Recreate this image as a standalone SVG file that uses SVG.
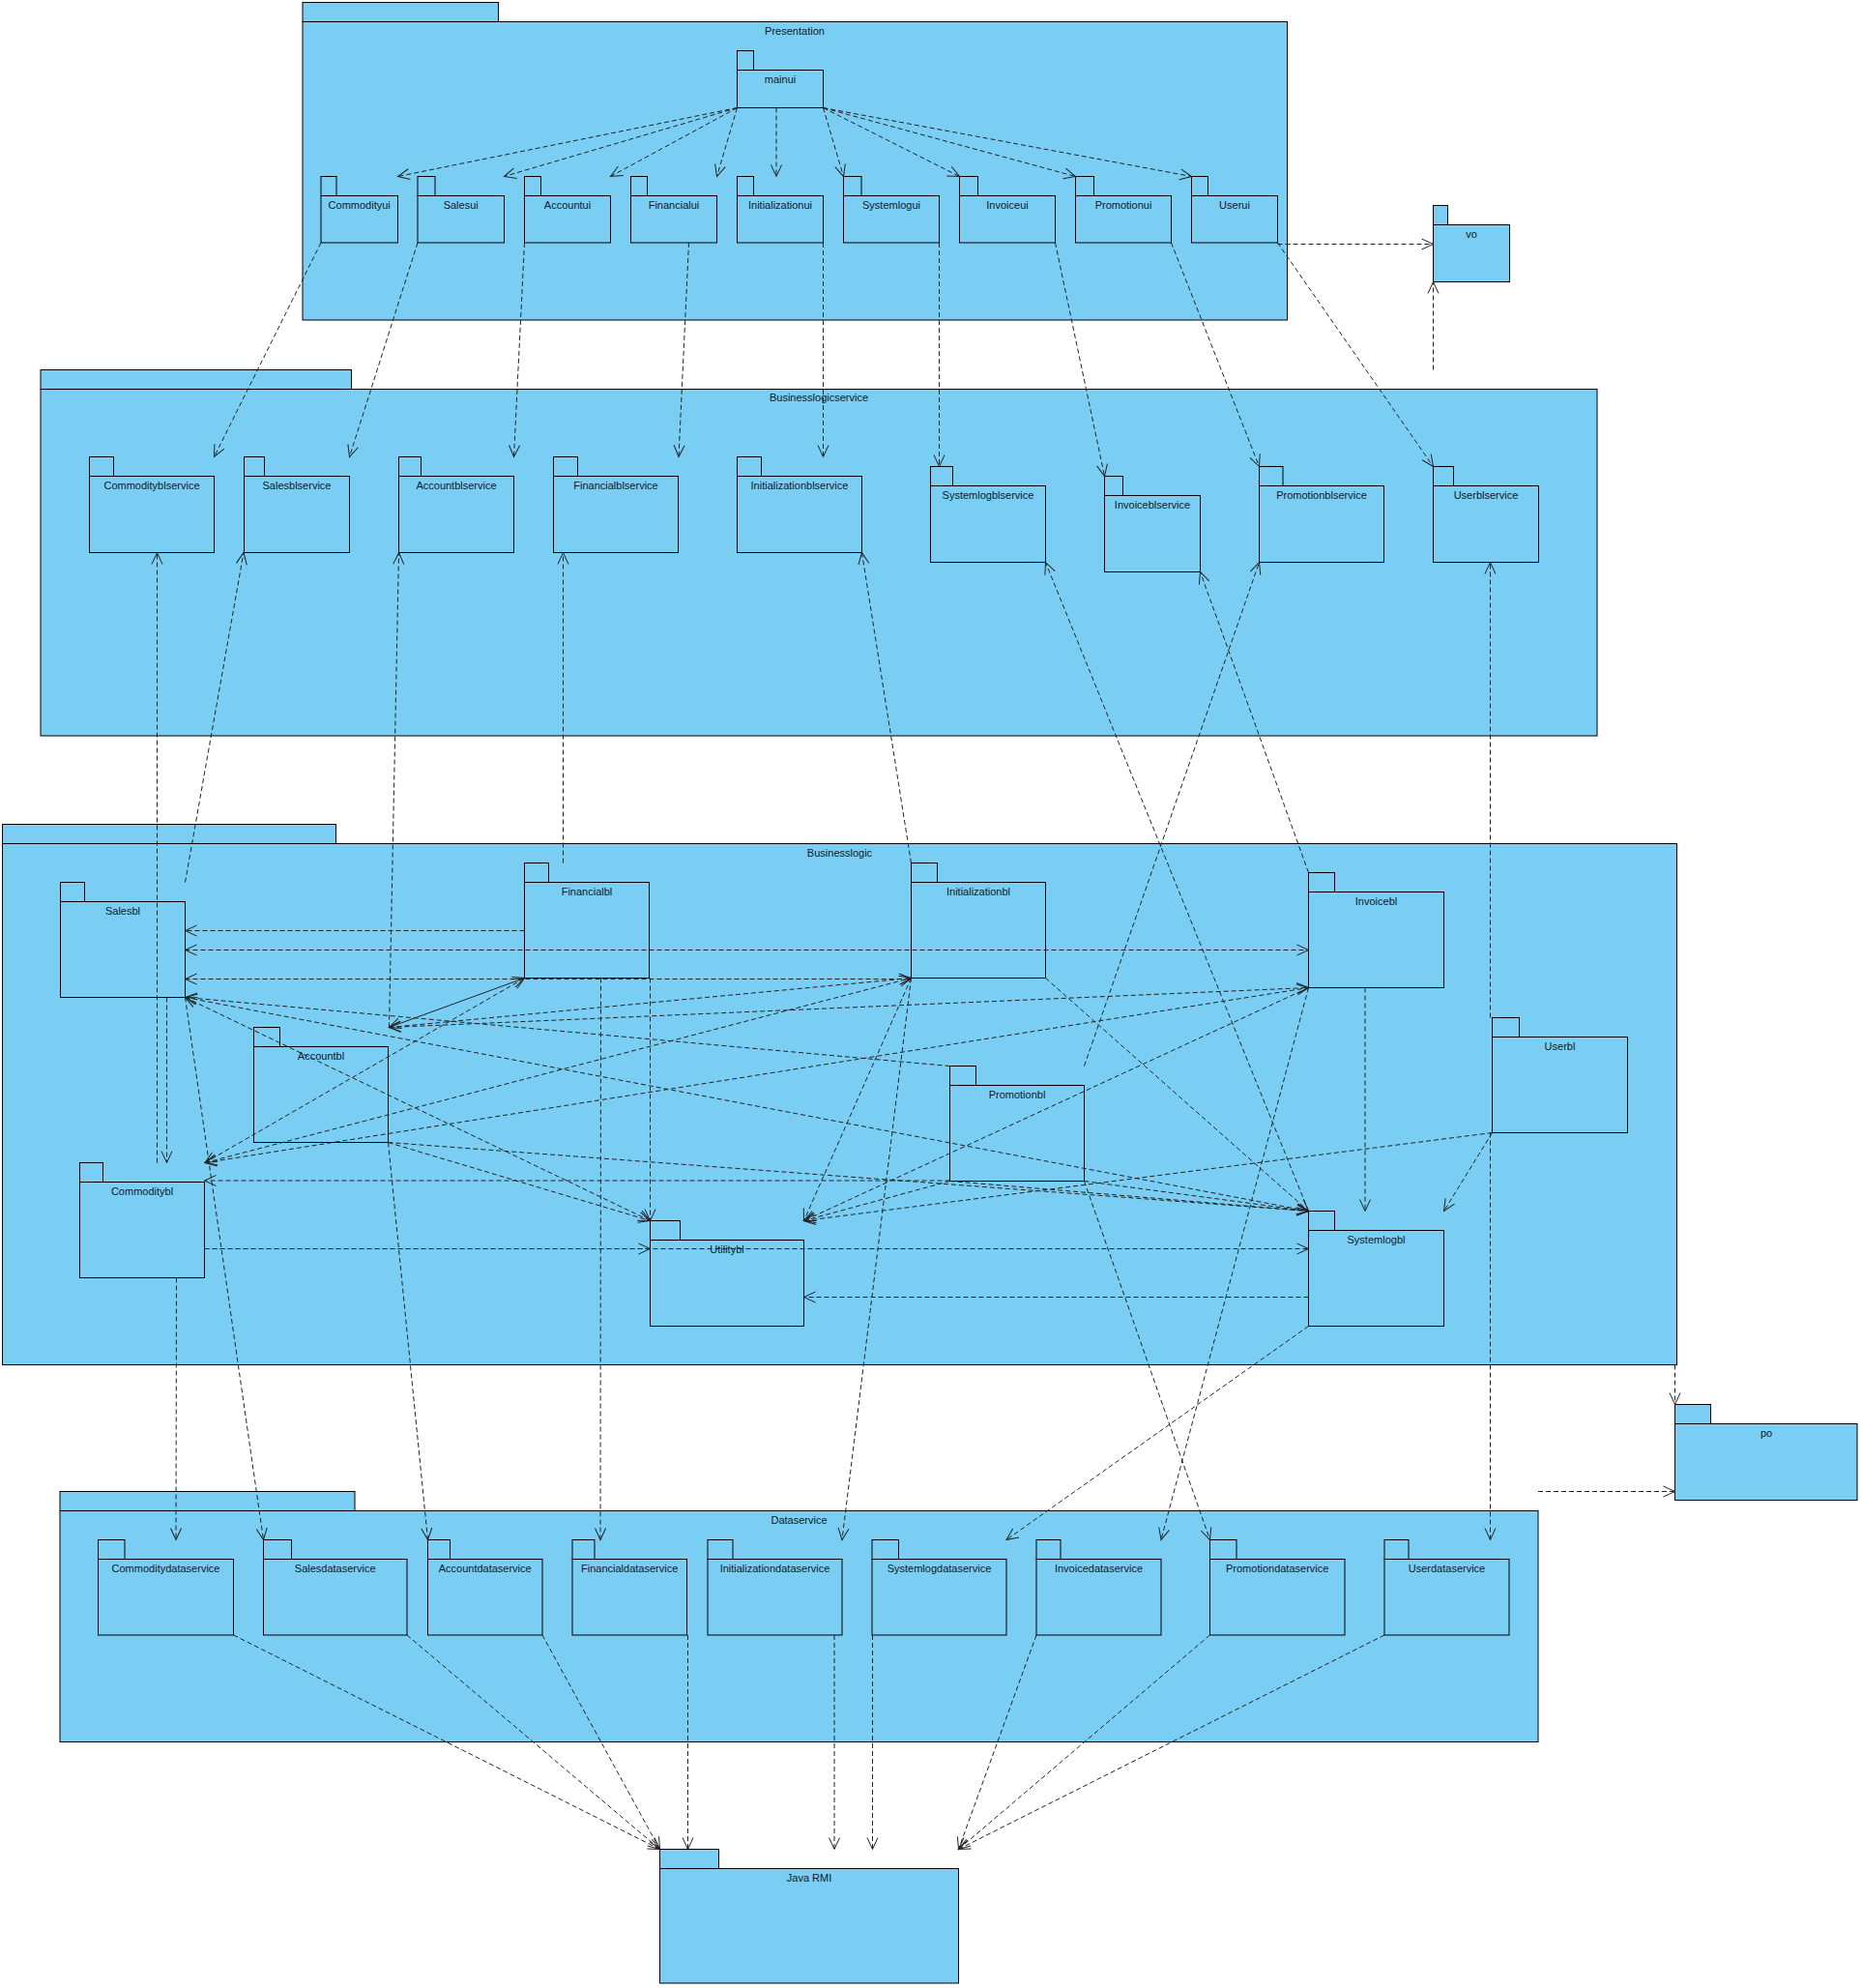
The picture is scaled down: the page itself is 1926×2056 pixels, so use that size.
<svg xmlns="http://www.w3.org/2000/svg" width="1926" height="2056" viewBox="0 0 1926 2056">
<style>
.pk{fill:#7ACEF3;stroke:#000;stroke-width:1}
.c{fill:none;stroke:#222;stroke-width:1;stroke-dasharray:5 3}
.cs{fill:none;stroke:#222;stroke-width:1}
text{font-family:"Liberation Sans",Arial,sans-serif;font-size:11px;fill:#0b1b2b;text-anchor:middle}
</style>
<defs>
<marker id="ah" viewBox="0 0 12 12" refX="12" refY="6" markerWidth="12" markerHeight="12" markerUnits="userSpaceOnUse" orient="auto-start-reverse" overflow="visible">
<path d="M0,0.5 L12,6 L0,11.5" fill="none" stroke="#222" stroke-width="1"/>
</marker>
</defs>
<rect width="1926" height="2056" fill="#fff"/>

<!-- Containers -->
<g id="Presentation"><rect class="pk" x="313" y="2.5" width="202.5" height="20"/><rect class="pk" x="313" y="22.5" width="1018.5" height="308.5"/><text x="822" y="35.5">Presentation</text></g>
<g id="Businesslogicservice"><rect class="pk" x="42" y="382.5" width="321.5" height="20"/><rect class="pk" x="42" y="402.5" width="1610" height="358.5"/><text x="847" y="415">Businesslogicservice</text></g>
<g id="Businesslogic"><rect class="pk" x="2.5" y="852.5" width="345" height="20"/><rect class="pk" x="2.5" y="872.5" width="1732" height="539"/><text x="868.5" y="885.5">Businesslogic</text></g>
<g id="Dataservice"><rect class="pk" x="62" y="1542.5" width="305" height="20"/><rect class="pk" x="62" y="1562.5" width="1529" height="239"/><text x="826.5" y="1575.5">Dataservice</text></g>

<!-- Presentation packages -->
<g id="mainui"><rect class="pk" x="762.5" y="52.5" width="17" height="20"/><rect class="pk" x="762.5" y="72.5" width="89" height="39"/><text x="807" y="85.5">mainui</text></g>
<g id="Commodityui"><rect class="pk" x="332" y="182.5" width="16" height="20"/><rect class="pk" x="332" y="202.5" width="79.5" height="48.5"/><text x="371.7" y="215.5">Commodityui</text></g>
<g id="Salesui"><rect class="pk" x="432" y="182.5" width="18" height="20"/><rect class="pk" x="432" y="202.5" width="89.5" height="48.5"/><text x="476.7" y="215.5">Salesui</text></g>
<g id="Accountui"><rect class="pk" x="542.5" y="182.5" width="17" height="20"/><rect class="pk" x="542.5" y="202.5" width="89" height="48.5"/><text x="587" y="215.5">Accountui</text></g>
<g id="Financialui"><rect class="pk" x="652.5" y="182.5" width="17" height="20"/><rect class="pk" x="652.5" y="202.5" width="89" height="48.5"/><text x="697" y="215.5">Financialui</text></g>
<g id="Initializationui"><rect class="pk" x="762.5" y="182.5" width="17" height="20"/><rect class="pk" x="762.5" y="202.5" width="89" height="48.5"/><text x="807" y="215.5">Initializationui</text></g>
<g id="Systemlogui"><rect class="pk" x="872.5" y="182.5" width="18.5" height="20"/><rect class="pk" x="872.5" y="202.5" width="99" height="48.5"/><text x="922" y="215.5">Systemlogui</text></g>
<g id="Invoiceui"><rect class="pk" x="992.5" y="182.5" width="19" height="20"/><rect class="pk" x="992.5" y="202.5" width="99" height="48.5"/><text x="1042" y="215.5">Invoiceui</text></g>
<g id="Promotionui"><rect class="pk" x="1112.5" y="182.5" width="19" height="20"/><rect class="pk" x="1112.5" y="202.5" width="99" height="48.5"/><text x="1162" y="215.5">Promotionui</text></g>
<g id="Userui"><rect class="pk" x="1232.5" y="182.5" width="17" height="20"/><rect class="pk" x="1232.5" y="202.5" width="89" height="48.5"/><text x="1277" y="215.5">Userui</text></g>
<g id="vo"><rect class="pk" x="1482.5" y="212.5" width="15" height="20"/><rect class="pk" x="1482.5" y="232.5" width="79" height="59"/><text x="1522" y="245.5">vo</text></g>

<!-- Businesslogicservice packages -->
<g id="Commodityblservice"><rect class="pk" x="92.5" y="472.5" width="25" height="20"/><rect class="pk" x="92.5" y="492.5" width="129" height="79"/><text x="157" y="505.5">Commodityblservice</text></g>
<g id="Salesblservice"><rect class="pk" x="252.5" y="472.5" width="21" height="20"/><rect class="pk" x="252.5" y="492.5" width="109" height="79"/><text x="307" y="505.5">Salesblservice</text></g>
<g id="Accountblservice"><rect class="pk" x="412.5" y="472.5" width="23" height="20"/><rect class="pk" x="412.5" y="492.5" width="119" height="79"/><text x="472" y="505.5">Accountblservice</text></g>
<g id="Financialblservice"><rect class="pk" x="572.5" y="472.5" width="25" height="20"/><rect class="pk" x="572.5" y="492.5" width="129" height="79"/><text x="637" y="505.5">Financialblservice</text></g>
<g id="Initializationblservice"><rect class="pk" x="762.5" y="472.5" width="25" height="20"/><rect class="pk" x="762.5" y="492.5" width="129" height="79"/><text x="827" y="505.5">Initializationblservice</text></g>
<g id="Systemlogblservice"><rect class="pk" x="962.5" y="482.5" width="23" height="20"/><rect class="pk" x="962.5" y="502.5" width="119" height="79"/><text x="1022" y="515.5">Systemlogblservice</text></g>
<g id="Invoiceblservice"><rect class="pk" x="1142.5" y="492.5" width="19" height="20"/><rect class="pk" x="1142.5" y="512.5" width="99" height="79"/><text x="1192" y="525.5">Invoiceblservice</text></g>
<g id="Promotionblservice"><rect class="pk" x="1302.5" y="482.5" width="24.5" height="20"/><rect class="pk" x="1302.5" y="502.5" width="129" height="79"/><text x="1367" y="515.5">Promotionblservice</text></g>
<g id="Userblservice"><rect class="pk" x="1482.5" y="482.5" width="21" height="20"/><rect class="pk" x="1482.5" y="502.5" width="109" height="79"/><text x="1537" y="515.5">Userblservice</text></g>

<!-- Businesslogic packages -->
<g id="Salesbl"><rect class="pk" x="62.5" y="912.5" width="25" height="20"/><rect class="pk" x="62.5" y="932.5" width="129" height="99"/><text x="127" y="945.5">Salesbl</text></g>
<g id="Financialbl"><rect class="pk" x="542.5" y="892.5" width="25" height="20"/><rect class="pk" x="542.5" y="912.5" width="129" height="99"/><text x="607" y="925.5">Financialbl</text></g>
<g id="Initializationbl"><rect class="pk" x="942.5" y="892.5" width="27" height="20"/><rect class="pk" x="942.5" y="912.5" width="139" height="99"/><text x="1012" y="925.5">Initializationbl</text></g>
<g id="Invoicebl"><rect class="pk" x="1353.5" y="902.5" width="27" height="20"/><rect class="pk" x="1353.5" y="922.5" width="140" height="99"/><text x="1423.5" y="935.5">Invoicebl</text></g>
<g id="Accountbl"><rect class="pk" x="262.5" y="1062.5" width="27" height="20"/><rect class="pk" x="262.5" y="1082.5" width="139" height="99"/><text x="332" y="1095.5">Accountbl</text></g>
<g id="Promotionbl"><rect class="pk" x="982.5" y="1102.5" width="27" height="20"/><rect class="pk" x="982.5" y="1122.5" width="139" height="99"/><text x="1052" y="1135.5">Promotionbl</text></g>
<g id="Userbl"><rect class="pk" x="1543.5" y="1052.5" width="28" height="20"/><rect class="pk" x="1543.5" y="1072.5" width="140" height="99"/><text x="1613.5" y="1085.5">Userbl</text></g>
<g id="Commoditybl"><rect class="pk" x="82.5" y="1202.5" width="24" height="20"/><rect class="pk" x="82.5" y="1222.5" width="129" height="99"/><text x="147" y="1235.5">Commoditybl</text></g>
<g id="Utilitybl"><rect class="pk" x="672.5" y="1262.5" width="31" height="20"/><rect class="pk" x="672.5" y="1282.5" width="159" height="89"/><text x="752" y="1295.5">Utilitybl</text></g>
<g id="Systemlogbl"><rect class="pk" x="1353.5" y="1252.5" width="27" height="20"/><rect class="pk" x="1353.5" y="1272.5" width="140" height="99"/><text x="1423.5" y="1285.5">Systemlogbl</text></g>
<g id="po"><rect class="pk" x="1732.5" y="1452.5" width="37" height="20"/><rect class="pk" x="1732.5" y="1472.5" width="188.5" height="79"/><text x="1827" y="1485.5">po</text></g>

<!-- Dataservice packages -->
<g id="Commoditydataservice"><rect class="pk" x="101.5" y="1592.5" width="27.5" height="20"/><rect class="pk" x="101.5" y="1612.5" width="140" height="78.5"/><text x="171.5" y="1625.5">Commoditydataservice</text></g>
<g id="Salesdataservice"><rect class="pk" x="272.5" y="1592.5" width="29" height="20"/><rect class="pk" x="272.5" y="1612.5" width="148.5" height="78.5"/><text x="346.7" y="1625.5">Salesdataservice</text></g>
<g id="Accountdataservice"><rect class="pk" x="442.5" y="1592.5" width="23" height="20"/><rect class="pk" x="442.5" y="1612.5" width="118.5" height="78.5"/><text x="501.7" y="1625.5">Accountdataservice</text></g>
<g id="Financialdataservice"><rect class="pk" x="592" y="1592.5" width="23" height="20"/><rect class="pk" x="592" y="1612.5" width="118.5" height="78.5"/><text x="651.2" y="1625.5">Financialdataservice</text></g>
<g id="Initializationdataservice"><rect class="pk" x="732" y="1592.5" width="26" height="20"/><rect class="pk" x="732" y="1612.5" width="139" height="78.5"/><text x="801.5" y="1625.5">Initializationdataservice</text></g>
<g id="Systemlogdataservice"><rect class="pk" x="902" y="1592.5" width="27.5" height="20"/><rect class="pk" x="902" y="1612.5" width="139" height="78.5"/><text x="971.5" y="1625.5">Systemlogdataservice</text></g>
<g id="Invoicedataservice"><rect class="pk" x="1072" y="1592.5" width="25" height="20"/><rect class="pk" x="1072" y="1612.5" width="129" height="78.5"/><text x="1136.5" y="1625.5">Invoicedataservice</text></g>
<g id="Promotiondataservice"><rect class="pk" x="1251.5" y="1592.5" width="27.5" height="20"/><rect class="pk" x="1251.5" y="1612.5" width="139.5" height="78.5"/><text x="1321.2" y="1625.5">Promotiondataservice</text></g>
<g id="Userdataservice"><rect class="pk" x="1432" y="1592.5" width="25" height="20"/><rect class="pk" x="1432" y="1612.5" width="129" height="78.5"/><text x="1496.5" y="1625.5">Userdataservice</text></g>
<g id="JavaRMI"><rect class="pk" x="682.5" y="1912.5" width="61" height="20"/><rect class="pk" x="682.5" y="1932.5" width="309" height="118.5"/><text x="837" y="1945.5">Java RMI</text></g>

<g id="connectors">
<!-- mainui to ui packages -->
<path class="c" d="M762.5,111.5 L411.5,182.5" marker-end="url(#ah)"/>
<path class="c" d="M762.5,111.5 L521.5,182.5" marker-end="url(#ah)"/>
<path class="c" d="M762.5,111.5 L631.5,182.5" marker-end="url(#ah)"/>
<path class="c" d="M762.5,111.5 L741.5,182.5" marker-end="url(#ah)"/>
<path class="c" d="M803,111.5 L803,182.5" marker-end="url(#ah)"/>
<path class="c" d="M851.5,111.5 L872.5,182.5" marker-end="url(#ah)"/>
<path class="c" d="M851.5,111.5 L992.5,182.5" marker-end="url(#ah)"/>
<path class="c" d="M851.5,111.5 L1112.5,182.5" marker-end="url(#ah)"/>
<path class="c" d="M851.5,111.5 L1232.5,182.5" marker-end="url(#ah)"/>
<!-- ui to blservice -->
<path class="c" d="M332,251 L221.5,472.5" marker-end="url(#ah)"/>
<path class="c" d="M432,251 L361.5,472.5" marker-end="url(#ah)"/>
<path class="c" d="M542.5,251 L531.5,472.5" marker-end="url(#ah)"/>
<path class="c" d="M712.5,251 L702,472.5" marker-end="url(#ah)"/>
<path class="c" d="M851.5,251 L851.5,472.5" marker-end="url(#ah)"/>
<path class="c" d="M971.5,251 L971.5,482.5" marker-end="url(#ah)"/>
<path class="c" d="M1091.5,251 L1142.5,492.5" marker-end="url(#ah)"/>
<path class="c" d="M1211.5,251 L1302.5,482.5" marker-end="url(#ah)"/>
<path class="c" d="M1321.5,251 L1482.5,482.5" marker-end="url(#ah)"/>
<path class="c" d="M1321.5,252.5 L1482.5,252.5" marker-end="url(#ah)"/>
<path class="c" d="M1482.5,382.5 L1482.5,291.5" marker-end="url(#ah)"/>
<!-- bl to blservice -->
<path class="c" d="M162.5,1202.5 L162.5,571.5" marker-end="url(#ah)"/>
<path class="c" d="M191.5,912.5 L252,571.5" marker-end="url(#ah)"/>
<path class="c" d="M402.5,1062.5 L412.5,571.5" marker-end="url(#ah)"/>
<path class="c" d="M582.5,892.5 L582.5,571.5" marker-end="url(#ah)"/>
<path class="c" d="M942.5,892.5 L891.5,571.5" marker-end="url(#ah)"/>
<path class="c" d="M1353.5,1252.5 L1081.5,581.5" marker-end="url(#ah)"/>
<path class="c" d="M1353.5,902.5 L1241.5,591.5" marker-end="url(#ah)"/>
<path class="c" d="M1121.5,1102.5 L1302.5,581.5" marker-end="url(#ah)"/>
<path class="c" d="M1541.5,1052.5 L1541.5,581.5" marker-end="url(#ah)"/>
<!-- inside Businesslogic -->
<path class="c" d="M542.5,962.5 L191.5,962.5" marker-end="url(#ah)"/>
<path class="c" d="M191.5,982.5 L1353.5,982.5" marker-start="url(#ah)" marker-end="url(#ah)"/>
<path class="c" d="M191.5,1012.5 L942.5,1012.5" marker-start="url(#ah)" marker-end="url(#ah)"/>
<path class="cs" d="M402.5,1062.5 L542.5,1011.5" marker-start="url(#ah)" marker-end="url(#ah)"/>
<path class="c" d="M212,1202.5 L542.5,1011.5" marker-start="url(#ah)" marker-end="url(#ah)"/>
<path class="c" d="M402.5,1062.5 L942.5,1011.5" marker-start="url(#ah)" marker-end="url(#ah)"/>
<path class="c" d="M402.5,1062.5 L1353.5,1021.5" marker-start="url(#ah)" marker-end="url(#ah)"/>
<path class="c" d="M212,1202.5 L942.5,1011.5" marker-start="url(#ah)" marker-end="url(#ah)"/>
<path class="c" d="M212,1202.5 L1353.5,1021.5" marker-start="url(#ah)" marker-end="url(#ah)"/>
<path class="c" d="M982.5,1102.5 L191.5,1031.5" marker-end="url(#ah)"/>
<path class="c" d="M191.5,1031.5 L1353.5,1252.5" marker-start="url(#ah)" marker-end="url(#ah)"/>
<path class="c" d="M191.5,1031.5 L672.5,1262.5" marker-start="url(#ah)" marker-end="url(#ah)"/>
<path class="c" d="M172.5,1031.5 L172.5,1202.5" marker-end="url(#ah)"/>
<path class="c" d="M401.5,1181.5 L1353.5,1252.5" marker-end="url(#ah)"/>
<path class="c" d="M401.5,1181.5 L672.5,1262.5" marker-end="url(#ah)"/>
<path class="c" d="M672.5,1011.5 L672.5,1262.5" marker-end="url(#ah)"/>
<path class="c" d="M942.5,1011.5 L831.5,1262.5" marker-end="url(#ah)"/>
<path class="c" d="M1081.5,1011.5 L1353.5,1252.5" marker-end="url(#ah)"/>
<path class="c" d="M1412,1021.5 L1412,1252.5" marker-end="url(#ah)"/>
<path class="c" d="M1353.5,1021.5 L831.5,1262.5" marker-end="url(#ah)"/>
<path class="c" d="M982.5,1221 L211.5,1221" marker-end="url(#ah)"/>
<path class="c" d="M982.5,1221.5 L831.5,1262.5" marker-end="url(#ah)"/>
<path class="c" d="M982.5,1221.5 L1353.5,1252.5" marker-end="url(#ah)"/>
<path class="c" d="M1121.5,1221.5 L1353.5,1252.5" marker-end="url(#ah)"/>
<path class="c" d="M211.5,1291.5 L1353.5,1291.5" marker-end="url(#ah)"/>
<path class="c" d="M211.5,1291.5 L672.5,1291.5" marker-end="url(#ah)"/>
<path class="c" d="M1353.5,1341.5 L831.5,1341.5" marker-end="url(#ah)"/>
<path class="c" d="M1543.5,1171.5 L1493.5,1252.5" marker-end="url(#ah)"/>
<path class="c" d="M1543.5,1171.5 L831.5,1262.5" marker-end="url(#ah)"/>
<!-- bl to dataservice -->
<path class="c" d="M182.5,1321.5 L182,1592.5" marker-end="url(#ah)"/>
<path class="c" d="M191.5,1031.5 L272.5,1592.5" marker-end="url(#ah)"/>
<path class="c" d="M401.5,1181.5 L442.5,1592.5" marker-end="url(#ah)"/>
<path class="c" d="M621.5,1011.5 L621,1592.5" marker-end="url(#ah)"/>
<path class="c" d="M942.5,1011.5 L871,1592.5" marker-end="url(#ah)"/>
<path class="c" d="M1353.5,1371.5 L1041,1592.5" marker-end="url(#ah)"/>
<path class="c" d="M1353.5,1021.5 L1201,1592.5" marker-end="url(#ah)"/>
<path class="c" d="M1121.5,1221.5 L1251.5,1592.5" marker-end="url(#ah)"/>
<path class="c" d="M1541.5,1171.5 L1541.5,1592.5" marker-end="url(#ah)"/>
<!-- to po -->
<path class="c" d="M1732.5,1411.5 L1732.5,1452.5" marker-end="url(#ah)"/>
<path class="c" d="M1591,1542.5 L1732.5,1542.5" marker-end="url(#ah)"/>
<!-- dataservice to Java RMI -->
<path class="c" d="M241.5,1691 L682.5,1912.5" marker-end="url(#ah)"/>
<path class="c" d="M421,1691 L682.5,1912.5" marker-end="url(#ah)"/>
<path class="c" d="M561,1691 L682.5,1912.5" marker-end="url(#ah)"/>
<path class="c" d="M711.5,1691 L711.5,1912.5" marker-end="url(#ah)"/>
<path class="c" d="M863,1691 L863,1912.5" marker-end="url(#ah)"/>
<path class="c" d="M902.5,1691 L902.5,1912.5" marker-end="url(#ah)"/>
<path class="c" d="M1072,1691 L991.5,1912.5" marker-end="url(#ah)"/>
<path class="c" d="M1251.5,1691 L991.5,1912.5" marker-end="url(#ah)"/>
<path class="c" d="M1432,1691 L991.5,1912.5" marker-end="url(#ah)"/>
</g>
</svg>
